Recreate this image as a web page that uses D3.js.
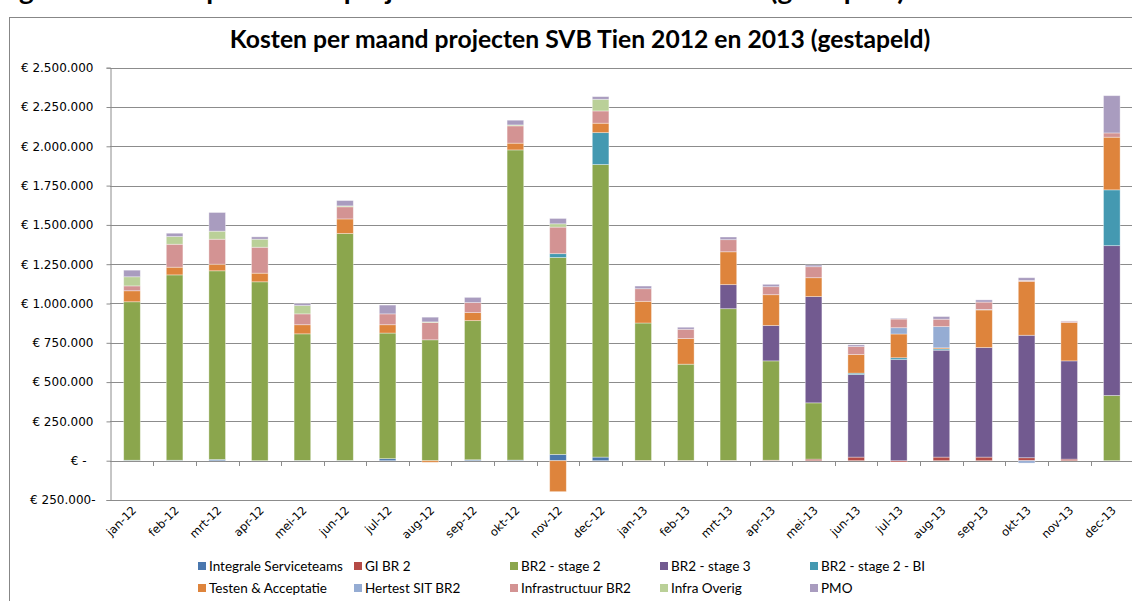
<!DOCTYPE html>
<html>
<head>
<meta charset="utf-8">
<script src="https://cdn.jsdelivr.net/npm/d3@7"></script>
<style>
  body { margin: 0; background: #fff; }
  svg { display: block; }
</style>
</head>
<body>
<script>
// maanden
var months = ["jan-12","feb-12","mrt-12","apr-12","mei-12","jun-12","jul-12","aug-12","sep-12","okt-12","nov-12","dec-12",
              "jan-13","feb-13","mrt-13","apr-13","mei-13","jun-13","jul-13","aug-13","sep-13","okt-13","nov-13","dec-13"];

// kosten per serie (x 1000 euro)
var integrale     = [3,3,8,0,2,2,13,0,6,4,40,23, 0,0,0,0,0,0,0,0,0,0,0,0];
var giBr2         = [0,0,0,0,0,0,0,0,0,0,0,0, 2,2,2,3,10,23,-8,23,23,19,10,0];
var br2Stage2     = [1008,1179,1200,1138,805,1443,799,769,885,1973,1253,1861, 874,612,965,632,358,0,0,0,0,0,0,415];
var br2Stage3     = [0,0,0,0,0,0,0,0,0,0,0,0, 0,0,153,225,676,525,643,680,697,779,625,953];
var br2Stage2Bi   = [0,0,0,0,0,0,0,0,0,0,24,203, 0,0,0,0,0,9,12,8,0,0,0,355];
var testen        = [70,49,42,55,58,93,53,-10,51,43,-197,60, 138,163,209,196,120,118,151,7,239,343,244,335];
var hertest       = [0,0,0,0,0,0,0,0,0,0,0,0, 0,0,0,0,0,0,40,135,3,-15,0,0];
var infra         = [31,146,159,165,69,77,69,110,64,110,169,78, 80,59,77,51,70,51,55,47,47,6,8,27];
var infraOverig   = [58,49,51,51,53,6,0,4,0,6,21,74, 0,0,0,0,0,0,0,0,0,0,0,0];
var pmo           = [42,21,119,15,13,34,56,30,33,30,34,17, 17,13,17,15,11,11,5,17,14,17,2,237];

var seriesNames = ["Integrale Serviceteams","GI BR 2","BR2 - stage 2","BR2 - stage 3","BR2 - stage 2 - BI",
                   "Testen & Acceptatie","Hertest SIT BR2","Infrastructuur BR2","Infra Overig","PMO"];
var seriesValues = [integrale, giBr2, br2Stage2, br2Stage3, br2Stage2Bi, testen, hertest, infra, infraOverig, pmo];
var colors = ["#4a77ae","#b44a46","#8ba64d","#725a90","#4499b1","#de843c","#95acd3","#d39393","#bad098","#a99cbf"];

var yTicks = [-250000,0,250000,500000,750000,1000000,1250000,1500000,1750000,2000000,2250000,2500000];

var width = 1132, height = 601;

var table = months.map(function(m, i) {
  var row = {month: m};
  seriesNames.forEach(function(s, j) { row[s] = seriesValues[j][i] * 1000; });
  return row;
});

var stacked = d3.stack()
    .keys(seriesNames)
    .offset(d3.stackOffsetDiverging)(table);

var svg = d3.select("body").append("svg")
    .attr("width", width)
    .attr("height", height);

// bijschrift boven de grafiek (valt grotendeels buiten beeld)
svg.append("text")
    .attr("x", -4)
    .attr("y", 0)
    .attr("font-family", "Lato, sans-serif")
    .attr("font-weight", "bold")
    .attr("font-size", 27)
    .attr("textLength", 909)
    .attr("lengthAdjust", "spacingAndGlyphs")
    .attr("fill", "#000")
    .text("Figuur 4: Kosten per maand projecten SVB Tien 2012 en 2013 (gestapeld)");

// kader
svg.append("rect")
    .attr("x", 9.5).attr("y", 17.5)
    .attr("width", 1140).attr("height", 600)
    .attr("fill", "none")
    .attr("stroke", "#878787");

svg.append("text")
    .attr("x", 580)
    .attr("y", 48)
    .attr("text-anchor", "middle")
    .attr("font-family", "Lato, sans-serif")
    .attr("font-weight", "bold")
    .attr("font-size", 24.7)
    .text("Kosten per maand projecten SVB Tien 2012 en 2013 (gestapeld)");

var x = d3.scaleBand()
    .domain(months)
    .range([110.7, 1133.1])
    .paddingInner(0.61)
    .paddingOuter(0.305);

var y = d3.scaleLinear()
    .domain([-250000, 2500000])
    .range([500, 67.7]);

// rasterlijnen
svg.append("g")
  .selectAll("line")
  .data(yTicks)
  .enter().append("line")
    .attr("x1", 110)
    .attr("x2", width)
    .attr("y1", function(d) { return Math.round(y(d)) + 0.5; })
    .attr("y2", function(d) { return Math.round(y(d)) + 0.5; })
    .attr("stroke", "#8c8c8c")
    .attr("stroke-width", 1);

// y-as
var fmt = function(d) {
  if (d === 0) return "€ -";
  var s = d3.format(",")(Math.abs(d)).replace(/,/g, ".");
  return d < 0 ? "€ " + s + "-" : "€ " + s;
};

var yAxis = svg.append("g")
    .attr("transform", "translate(110.5,0)")
    .call(d3.axisLeft(y).tickValues(yTicks).tickFormat(fmt).tickSize(4).tickPadding(13));

yAxis.select(".domain").attr("stroke", "#8c8c8c");
yAxis.selectAll(".tick line").attr("stroke", "#8c8c8c");
yAxis.selectAll(".tick text")
    .attr("font-family", "DejaVu Sans, sans-serif")
    .attr("font-size", 12)
    .attr("fill", "#000")
    .attr("dx", function(d) { return d === 0 ? -7 : (d < 0 ? 2 : 0); });

// x-as tick markeringen tussen categorieen
var bounds = months.map(function(m) { return x(m) - x.step() * x.paddingInner() / 2; });
svg.append("g")
  .selectAll("line")
  .data(bounds.slice(1))
  .enter().append("line")
    .attr("x1", function(d) { return Math.round(d) + 0.5; })
    .attr("x2", function(d) { return Math.round(d) + 0.5; })
    .attr("y1", Math.round(y(0)))
    .attr("y2", Math.round(y(0)) + 5)
    .attr("stroke", "#8c8c8c");

// staven
var layer = svg.append("g")
  .selectAll("g")
  .data(stacked)
  .enter().append("g")
    .attr("fill", function(d, i) { return colors[i]; });

layer.selectAll("rect")
  .data(function(d) { return d.filter(function(p) { return p[1] !== p[0]; }); })
  .enter().append("rect")
    .attr("x", function(d) { return x(d.data.month); })
    .attr("width", x.bandwidth())
    .attr("y", function(d) { return y(Math.max(d[0], d[1])); })
    .attr("height", function(d) { return Math.abs(y(d[0]) - y(d[1])); })
    .attr("stroke", "#ffffff")
    .attr("stroke-opacity", 0.45)
    .attr("stroke-width", 0.8);

// categorielabels
svg.append("g")
  .selectAll("text")
  .data(months)
  .enter().append("text")
    .attr("transform", function(d) {
      return "translate(" + (x(d) + x.bandwidth() / 2 + 5) + ",511) rotate(-45)";
    })
    .attr("text-anchor", "end")
    .attr("font-family", "DejaVu Sans, sans-serif")
    .attr("font-size", 11.5)
    .text(function(d) { return d; });

// legenda
var legendCols = [198, 354, 510, 660, 810];
var legend = svg.append("g")
  .selectAll("g")
  .data(seriesNames)
  .enter().append("g")
    .attr("transform", function(d, i) {
      return "translate(" + legendCols[i % 5] + "," + (i < 5 ? 567 : 589) + ")";
    });

legend.append("rect")
    .attr("x", 0).attr("y", -5)
    .attr("width", 8).attr("height", 8)
    .attr("fill", function(d, i) { return colors[i]; });

legend.append("text")
    .attr("x", 11)
    .attr("y", 4)
    .attr("font-family", "Lato, sans-serif")
    .attr("font-size", 13.5)
    .text(function(d) { return d; });
</script>
</body>
</html>
